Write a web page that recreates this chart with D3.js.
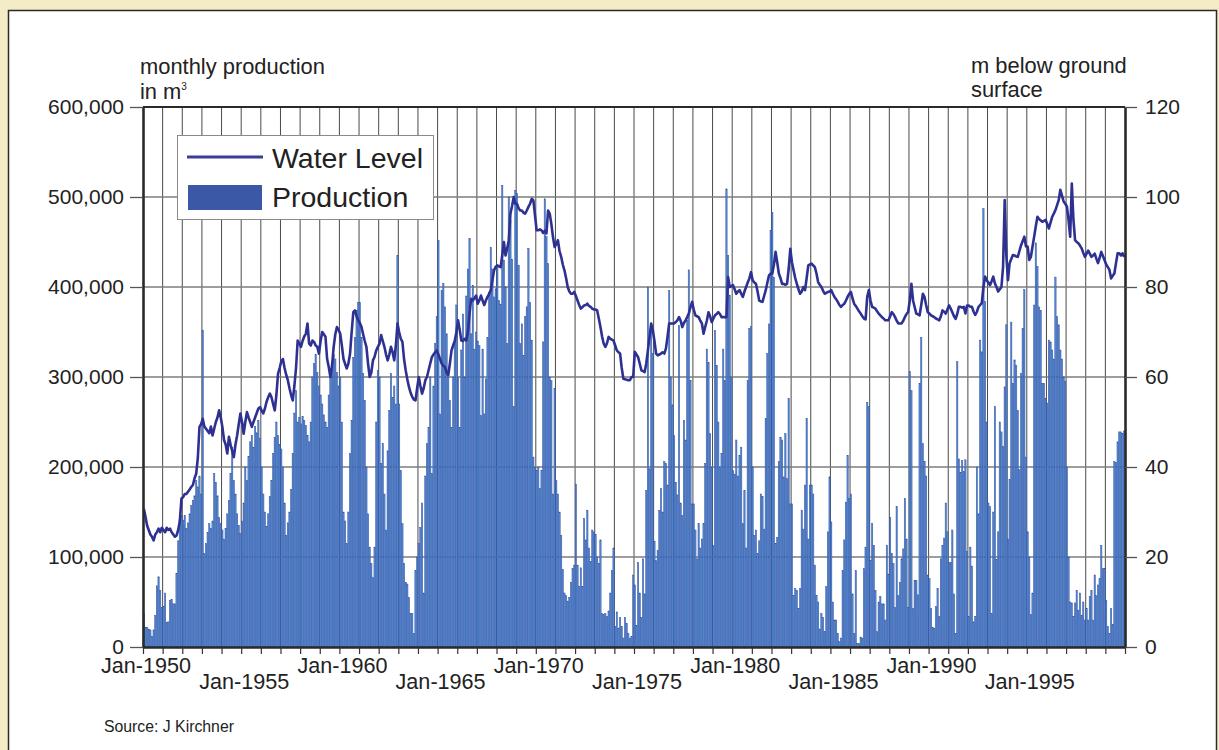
<!DOCTYPE html>
<html><head><meta charset="utf-8">
<script src="https://cdn.jsdelivr.net/npm/d3@7"></script>
<style>
html,body{margin:0;padding:0;background:#f4ecc6;}
svg{display:block;}
text{font-family:"Liberation Sans", Arial, Helvetica, sans-serif; fill:#222;}
</style></head><body>
<svg id="chart" width="1219" height="750"></svg>
<script>
// ---------- data ----------
const startYear = 1950;
const years = 50;
const xTickLabels = ["Jan-1950","Jan-1955","Jan-1960","Jan-1965","Jan-1970","Jan-1975","Jan-1980","Jan-1985","Jan-1990","Jan-1995"];
const prodTicks = [0,100000,200000,300000,400000,500000,600000];
const levelTicks = [0,20,40,60,80,100,120];
const seriesNames = ["Water Level","Production"];

// monthly production, thousand m3 (one row per year, Jan..Dec)
const productionK = [
 37,22,22,20,19,12,19,35,68,78,63,44,
 45,60,27,28,52,53,48,48,82,118,142,146,
 141,146,132,138,148,157,163,168,185,178,190,170,
 352,104,115,127,137,132,140,193,183,168,144,137,
 130,120,132,148,163,193,222,185,170,148,135,126,
 140,160,200,185,212,228,235,222,245,238,252,232,
 200,170,150,134,148,167,185,215,233,250,235,225,
 220,200,160,124,138,150,175,215,260,285,250,255,
 248,256,252,246,235,228,250,300,315,325,305,290,
 280,270,258,250,244,280,300,315,325,320,305,290,
 300,250,150,140,115,150,215,252,322,344,374,383,
 383,344,304,274,200,148,111,93,77,111,250,307,
 300,204,226,170,130,218,263,304,277,290,270,435,
 270,196,137,93,72,70,55,37,37,15,85,100,
 115,133,160,60,190,226,244,300,193,290,337,367,
 452,259,396,404,378,348,300,274,244,300,340,380,
 300,244,330,370,300,390,420,454,348,402,331,350,
 340,335,257,331,259,298,344,394,444,420,389,398,
 422,385,381,513,430,400,337,500,474,431,267,507,
 504,424,337,359,324,367,378,443,383,341,211,200,
 196,200,176,196,339,498,456,426,300,296,170,287,
 185,170,150,124,86,60,57,51,55,72,87,91,
 181,91,67,88,67,143,119,152,110,95,130,128,
 125,100,93,119,37,36,37,34,40,60,85,110,
 23,39,21,33,23,10,33,26,15,10,12,80,
 69,24,94,60,33,98,59,174,400,198,359,326,
 117,96,107,152,176,150,206,204,180,396,300,269,
 235,183,169,357,160,146,252,230,363,419,296,159,
 159,130,98,137,110,120,137,204,331,316,237,200,
 113,352,313,250,200,215,331,296,509,435,391,300,
 196,192,230,190,213,222,137,174,110,296,354,356,
 200,124,130,104,118,170,167,131,254,326,359,463,
 483,411,115,122,206,233,230,189,237,187,276,159,
 159,57,65,63,43,65,152,131,180,254,120,180,
 180,170,91,57,50,20,37,33,17,67,128,189,
 139,50,30,30,15,6,10,85,119,161,213,165,
 170,59,15,85,4,4,11,10,87,111,272,267,
 96,137,113,63,17,50,56,48,48,30,113,81,
 144,104,93,44,156,57,72,98,109,165,120,44,
 306,285,43,74,74,58,293,344,226,206,190,80,
 76,43,22,21,45,65,34,98,113,121,160,128,
 94,94,130,59,15,317,209,194,207,195,208,106,
 34,111,90,28,34,200,148,341,328,487,384,250,
 160,156,37,150,267,97,128,250,239,223,289,358,
 120,186,361,293,319,313,263,197,304,354,397,211,
 128,100,36,60,380,449,423,378,374,293,293,276,
 271,341,339,330,320,411,367,358,330,320,300,295,
 200,100,50,49,34,49,63,41,60,35,50,30,
 43,30,56,63,30,80,57,69,76,113,87,87,
 52,23,15,43,25,206,205,228,239,239,237,240
];

// monthly water level, m below ground surface
const waterLevel = [
 30.7,29,27,26,25,24.5,23.7,25,25.5,26.3,25.5,26.5,
 26,25.5,26.5,26,26.3,25.5,25,24.5,24.8,26,28,33,
 33.3,34,34,34.5,35,35.6,36,37.5,38.5,42,48.9,49.5,
 50.7,49,48.5,48,47.5,49,47,48.5,50,51,52.6,51,
 48.9,46,45,43,46.7,45,43.5,42.2,45,47,49.5,51.9,
 50,47.4,50,52.2,51,50,48.9,50,51,52,53,53.3,
 52.5,51.9,53,54.5,55.5,56.3,55.5,54,52.6,56,60.7,62,
 63.5,64,62,60.5,59.3,57.5,56,54.8,58,62,68.1,67.5,
 66.7,68,69,69.6,71.9,67.4,67,68.1,67.8,67,66.7,65.2,
 68,70,69.5,68.9,64,62.2,60,62.5,66.7,69.5,71.1,70.5,
 69.6,67,64,62.9,61.9,63,65.2,70,74.4,74.8,73.5,72.6,
 72,71.1,69.5,68,66.7,63,60,61,63.7,64.5,65.9,66.7,
 67.4,69.3,68,66.7,65,63.7,65,66.7,65.5,63.7,67,71.9,
 70,68.5,67.8,64,61.5,59.5,57.8,56.5,55.6,55,54.8,57.5,
 60,58,56.3,57.5,59.3,60,61.5,63,64.4,65,65.5,65.9,
 65,64,63,62.5,62.2,61,60.4,63,65.9,67,68.1,70,
 72.6,70.5,68.1,68,68.5,68.1,70,74,77.4,77,77.5,78.1,
 76.3,77,78.1,77,76,77,77.8,78.5,79.3,81.5,83.7,84.5,
 84.8,84.6,84.4,87,90,87,88.5,90.4,96.3,98,100,98.5,
 98.5,97.5,97,97,96.5,96.3,97,97.8,98.5,99.6,99.3,96,
 92.6,92.6,92.8,92.6,92,92.5,91.9,97,96.3,94,91.1,88.9,
 89.5,90.4,88,86.7,85,83.7,82,80,79,78.5,78.5,78.9,
 78,77,76,75.2,75.5,75.9,76,76.3,75.8,75.6,75.2,75,
 75,74.8,73,71.1,69,67.4,66.7,67.5,68.9,68.5,68.3,68.1,
 67,65.9,65.5,65.2,62,59.6,59.5,59.4,59.3,59.3,60,60,
 65.6,65,64.4,63,61.5,61.3,61.1,63,65.9,69,71.9,70.4,
 68,65.2,64.8,65,65.2,65.5,65.2,66.3,69,71.9,71.9,71.9,
 71.9,72.2,72.6,73.3,72.5,71.1,72,72.6,73.3,74.1,75.5,76.7,
 75,73.7,73.5,73.3,72.5,71.9,69.6,71.1,72.5,74.4,73.5,72.2,
 73,73.7,74,74.4,74,73.3,73.3,73.3,73.3,82.2,80,80.2,
 80.4,79.5,78.5,79,79.3,78.5,77.8,79,80,81,81.9,83.3,
 81.5,81,80.7,79,77,76.8,76.7,78,79.3,81,82.6,83,
 83,85,87.8,85.5,83,82,80.7,80.7,80.5,80.7,84,88.5,
 85.5,83.7,82,80.7,79.5,78.5,79,80,79.3,82,84.8,85,
 85.2,84.8,84.4,83,81.1,80.5,80,79.2,78.5,78.7,78.9,79,
 79.3,78.5,77.8,77.3,76.7,76,75.6,76,76.3,77,77.8,78.5,
 78.9,77.5,76.3,75.8,75.2,74.6,74.1,73.5,73,72.8,77.8,79.3,
 77,75.6,75.4,75.2,74.6,74.1,73.7,73.3,73,72.6,72.6,72.6,
 73.5,74.4,74,73.3,72.5,71.9,71.9,71.9,72.5,73.3,74,74.4,
 77,80.7,77,75.5,74.1,73.9,73.7,76,78.5,77.8,76,74.4,
 74.1,73.7,73.5,73.3,73,72.8,72.6,73.5,74.8,74.5,74.1,75,
 75.9,75.2,74.4,73.5,72.9,74,75.6,75.6,75.4,75.6,74.1,75.9,
 75.9,75.6,75.6,74.5,73.8,74.5,75.6,76,76.4,80,82.3,81.5,
 81,80.4,81.3,82.3,80.8,80,79,79.5,80,84.5,99.3,87,
 81.5,85.3,86.2,87.1,87,86.8,86.7,88,89.3,90.2,91.2,89,
 89,86,86.7,89,91.2,93.5,95.6,95.1,94.8,94.5,94.7,94.9,
 94,93,94.3,95.6,96.3,97.1,98.2,99.3,101.6,100.3,99,98.5,
 97.9,94.9,91.2,103,94.9,90.4,90,89.7,89.2,88.6,87.6,86.7,
 87.4,88.1,87.4,86.7,87,87.4,86.3,85.3,86.5,87.8,86.9,86,
 85,84.4,83.8,81.9,82.5,83,85.3,87.5,87.5,87,87.5,86.7
];

// ---------- layout ----------
const m = {left:143, right:1125, top:107, bottom:647};
const nMonths = years * 12;

const svg = d3.select("#chart");

// white panel with border
svg.append("rect").attr("x",8.5).attr("y",10.5).attr("width",1208).attr("height",760)
  .attr("fill","#fff").attr("stroke","#2a2a2a").attr("stroke-width",1.5);

const x = d3.scaleLinear().domain([0, nMonths]).range([m.left, m.right]);
const yP = d3.scaleLinear().domain([0, 600000]).range([m.bottom, m.top]);
const yL = d3.scaleLinear().domain([0, 120]).range([m.bottom, m.top]);

// gridlines
const grid = svg.append("g");
grid.selectAll("line.v").data(d3.range(12, nMonths, 12)).join("line")
  .attr("x1", d => x(d)).attr("x2", d => x(d))
  .attr("y1", m.top).attr("y2", m.bottom)
  .attr("stroke", "#4a4a4a").attr("stroke-width", 1);
grid.selectAll("line.h").data(prodTicks.slice(1, -1)).join("line")
  .attr("x1", m.left).attr("x2", m.right)
  .attr("y1", d => yP(d)).attr("y2", d => yP(d))
  .attr("stroke", "#7d7d7d").attr("stroke-width", 1.6);

// bars
const step = x(1) - x(0);
svg.append("g").selectAll("rect").data(productionK.slice(0, nMonths)).join("rect")
  .attr("x", (d,i) => x(i) + 0.15)
  .attr("width", step - 0.3)
  .attr("y", d => yP(d*1000))
  .attr("height", d => yP(0) - yP(d*1000))
  .attr("fill", "#528bd4")
  .attr("stroke", "#2f4d9e")
  .attr("stroke-width", 0.45);

// water level line
const line = d3.line().x((d,i) => x(i + 0.5)).y(d => yL(d));
svg.append("path").datum(waterLevel.slice(0, nMonths))
  .attr("d", line).attr("fill","none")
  .attr("stroke","#2e3192").attr("stroke-width",2.6)
  .attr("stroke-linejoin","round");

// frame top
svg.append("line").attr("x1",m.left).attr("x2",m.right).attr("y1",m.top).attr("y2",m.top)
  .attr("stroke","#2a2a2a").attr("stroke-width",2);

// axes
const fs = "21px";
const axL = svg.append("g").attr("transform",`translate(${m.left},0)`)
  .call(d3.axisLeft(yP).tickValues(prodTicks).tickSize(13).tickSizeOuter(0).tickPadding(6)
    .tickFormat(d3.format(",")));
const axR = svg.append("g").attr("transform",`translate(${m.right},0)`)
  .call(d3.axisRight(yL).tickValues(levelTicks).tickSize(12).tickSizeOuter(0).tickPadding(8));
const axB = svg.append("g").attr("transform",`translate(0,${m.bottom})`)
  .call(d3.axisBottom(x).tickValues(d3.range(0, nMonths + 1, 12)).tickSize(7).tickSizeOuter(0)
    .tickFormat(""));
[axL, axR].forEach(a => {
  a.selectAll("text").style("font-size", fs).attr("fill","#222")
   .attr("font-family",'"Liberation Sans", Arial, sans-serif');
  a.selectAll(".tick line").attr("stroke","#555").attr("stroke-width",1.3);
});
axB.selectAll(".tick line").attr("stroke","#333").attr("stroke-width",1.2);
axL.select(".domain").attr("stroke","#2a2a2a").attr("stroke-width",2.6);
axR.select(".domain").attr("stroke","#2a2a2a").attr("stroke-width",2.6);
axB.select(".domain").attr("stroke","#2a2a2a").attr("stroke-width",2.4);

// x labels (staggered, every 5 years)
svg.append("g").selectAll("text").data(xTickLabels).join("text")
  .attr("x", (d,i) => x(i*60) + 3)
  .attr("y", (d,i) => i % 2 === 0 ? 673 : 689)
  .attr("text-anchor","middle").style("font-size", "21.6px").text(d => d);

// axis titles
svg.append("text").attr("x",140).attr("y",74).style("font-size","21.9px").text("monthly production");
const t2 = svg.append("text").attr("x",140).attr("y",99).style("font-size","21.9px");
t2.append("tspan").text("in m");
t2.append("tspan").attr("dy",-9).style("font-size","10px").text("3");
svg.append("text").attr("x",971).attr("y",73).style("font-size","21.9px").text("m below ground");
svg.append("text").attr("x",971).attr("y",97).style("font-size","21.9px").text("surface");

// legend
const lg = svg.append("g");
lg.append("rect").attr("x",177.5).attr("y",135.5).attr("width",256).attr("height",84)
  .attr("fill","#fff").attr("stroke","#8a8a8a").attr("stroke-width",1);
lg.append("line").attr("x1",187).attr("x2",263).attr("y1",157).attr("y2",157)
  .attr("stroke","#3b3d96").attr("stroke-width",3);
lg.append("rect").attr("x",188).attr("y",185).attr("width",74).attr("height",25)
  .attr("fill","#3a58a6");
lg.append("text").attr("x",272).attr("y",168).style("font-size","28.5px").text(seriesNames[0]);
lg.append("text").attr("x",272).attr("y",207).style("font-size","28.5px").text(seriesNames[1]);

// source
svg.append("text").attr("x",104).attr("y",732).style("font-size","15.8px").text("Source: J Kirchner");
</script>
</body></html>
